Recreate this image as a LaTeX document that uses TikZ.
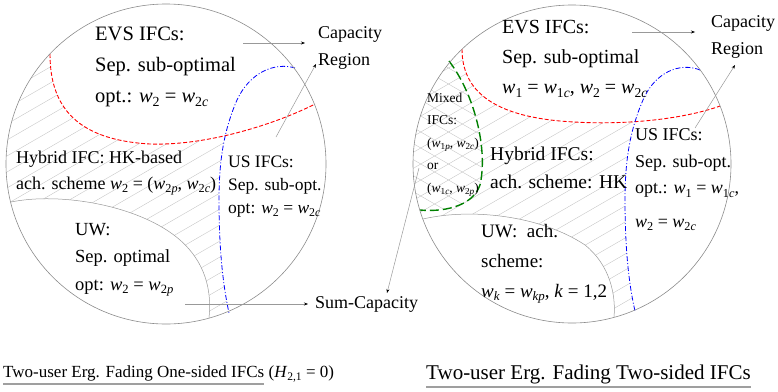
\documentclass[tikz,border=0pt]{standalone}
\usepackage{fontspec}
\setmainfont{Liberation Serif}
\usetikzlibrary{arrows.meta, positioning, calc}
\newcommand{\lowsub}[1]{\raisebox{-0.45ex}{\scalebox{0.68}{#1}}}
\newcommand{\wv}[1]{\textit{w}\lowsub{#1}}
\newcommand{\fsz}[2]{\fontsize{#1}{#2}\selectfont}

\begin{document}
\begin{tikzpicture}[
  x=1pt, y=-1pt,
  >=Stealth,
  txt/.style={anchor=base west, inner sep=0pt, align=left},
  rim/.style={draw=gray!90, line width=0.6pt},
  hatch/.style={draw=gray!45, line width=0.4pt},
  conn/.style={draw=gray!80, line width=0.5pt, -{Stealth[length=4pt,width=3pt,black]}},
  evsline/.style={red, line width=0.9pt, dash pattern=on 4pt off 2pt},
  usline/.style={blue, line width=0.8pt, dash pattern=on 5pt off 2pt on 1pt off 2pt},
  mixline/.style={green!50!black, line width=1.4pt, dash pattern=on 9pt off 4pt},
  uwline/.style={draw=gray!80, line width=0.5pt},
  uline/.style={draw=gray!75, line width=2.2pt},
]
  \useasboundingbox (0,0) rectangle (778,391);

  % --- one-sided IFCs (left) --------------------------------------
  \begin{scope}
    \clip (166,164) circle[radius=160pt];
    \clip (0,54) -- (50,54) .. controls (50,110) and (80,140) .. (150,144)
          .. controls (210,146) and (280,122) .. (315,104) -- (340,104)
          -- (340,340) -- (0,340) -- cycle;
    \clip (0,0) -- (295,0) -- (295,68) .. controls (275,62) and (250,72) .. (237,100)
          .. controls (224,130) and (219,160) .. (219,200)
          .. controls (219,250) and (223,285) .. (229,313) -- (229,340) -- (0,340) -- cycle;
    \foreach \k in {0,...,36}
      \draw[hatch] (0,\k*16) -- ++(30:420pt);
  \end{scope}
  \begin{scope}
    \clip (166,164) circle[radius=160pt];
    \fill[white] (0,202) -- (11,202) .. controls (60,192) and (140,205) .. (180,240)
          .. controls (205,262) and (212,290) .. (209,318) -- (209,340) -- (0,340) -- cycle;
  \end{scope}
  \draw[uwline] (11,202) .. controls (60,192) and (140,205) .. (180,240)
        .. controls (205,262) and (212,290) .. (209,318);
  \draw[evsline] (50,54) .. controls (50,110) and (80,140) .. (150,144)
        .. controls (210,146) and (280,122) .. (315,104);
  \draw[usline] (295,68) .. controls (275,62) and (250,72) .. (237,100)
        .. controls (224,130) and (219,160) .. (219,200)
        .. controls (219,250) and (223,285) .. (229,313);
  \draw[rim] (166,164) circle[radius=160pt];

  \node[txt, font=\fsz{20.5}{31}] (evsL) at (95,102) {EVS IFCs:\\Sep. sub-optimal\\opt.: \wv{2} = \wv{2\textit{c}}};
  \node[txt, font=\fsz{18}{27}] (capL) at (318,65) {Capacity\\Region};
  \node[txt, font=\fsz{18}{26}] (hybL) at (16,189) {Hybrid IFC: HK-based\\ach. scheme \wv{2} = (\wv{2\textit{p}}, \wv{2\textit{c}})};
  \node[txt, font=\fsz{17.5}{23}] (usL) at (228,213) {US IFCs:\\Sep. sub-opt.\\opt: \wv{2} = \wv{2\textit{c}}};
  \node[txt, font=\fsz{18.5}{27.5}] (uwL) at (75,290) {UW:\\Sep. optimal\\opt: \wv{2} = \wv{2\textit{p}}};
  \node[txt, font=\fsz{18}{22}] (sumC) at (315,308) {Sum-Capacity};

  \coordinate (evsArrL) at (243,43);
  \coordinate (capArrL) at (305,43);
  \coordinate (usArrL) at (276,137);
  \coordinate (regArrL) at (316,64);
  \coordinate (uwArrL) at (185,304);
  \coordinate (sumArrL) at (308,304);
  \draw[conn] (evsArrL) -- (capArrL);
  \draw[conn] (usArrL) -- (regArrL);
  \draw[conn] (uwArrL) -- (sumArrL);

  % --- two-sided IFCs (right) -------------------------------------
  \begin{scope}
    \clip (572,164) circle[radius=159pt];
    \clip (400,49) -- (462,49) .. controls (462,92) and (495,115) .. (560,121)
          .. controls (630,127) and (690,117) .. (720,106) -- (740,106)
          -- (740,340) -- (400,340) -- cycle;
    \clip (400,0) -- (700,0) -- (700,70) .. controls (680,62) and (655,72) .. (643,100)
          .. controls (630,130) and (625,160) .. (625,200)
          .. controls (625,250) and (629,285) .. (635,311) -- (635,340) -- (400,340) -- cycle;
    \foreach \k in {0,...,36}
      \draw[hatch] (400,\k*16) -- ++(30:420pt);
    \begin{scope}
      \clip (400,61) -- (449,61) .. controls (475,95) and (488,150) .. (480,185)
            .. controls (472,208) and (440,212) .. (420,210) -- (400,210) -- cycle;
      \foreach \k in {0,...,20}
        \draw[hatch] (400,\k*16-40) -- ++(-30:200pt);
    \end{scope}
  \end{scope}
  \begin{scope}
    \clip (572,164) circle[radius=159pt];
    \fill[white] (400,219) -- (423,219) .. controls (470,208) and (540,215) .. (585,245)
          .. controls (610,265) and (616,295) .. (614,317) -- (614,340) -- (400,340) -- cycle;
  \end{scope}
  \draw[uwline] (423,219) .. controls (470,208) and (540,215) .. (585,245)
        .. controls (610,265) and (616,295) .. (614,317);
  \draw[evsline] (462,49) .. controls (462,92) and (495,115) .. (560,121)
        .. controls (630,127) and (690,117) .. (720,106);
  \draw[mixline] (449,61) .. controls (475,95) and (488,150) .. (480,185)
        .. controls (472,208) and (440,212) .. (420,210);
  \draw[usline] (700,70) .. controls (680,62) and (655,72) .. (643,100)
        .. controls (630,130) and (625,160) .. (625,200)
        .. controls (625,250) and (629,285) .. (635,311);
  \draw[rim] (572,164) circle[radius=159pt];

  \node[txt, font=\fsz{20}{30}] (evsR) at (502,93) {EVS IFCs:\\Sep. sub-optimal\\\wv{1} = \wv{1\textit{c}}, \wv{2} = \wv{2\textit{c}}};
  \node[txt, font=\fsz{18}{27}] (capR) at (711,54) {Capacity\\Region};
  \node[txt, font=\fsz{13.5}{22.5}] (mixR) at (427,192) {Mixed\\IFCs:\\(\wv{1\textit{p}}, \wv{2\textit{c}})\\or\\(\wv{1\textit{c}}, \wv{2\textit{p}})};
  \node[txt, font=\fsz{19.5}{28}] (hybR) at (490,188) {Hybrid IFCs:\\ach. scheme: HK};
  \node[txt, font=\fsz{18}{26.5}] (usR) at (635,227) {US IFCs:\\Sep. sub-opt.\\opt.: \wv{1} = \wv{1\textit{c}},\\[7pt]\wv{2} = \wv{2\textit{c}}};
  \node[txt, font=\fsz{19}{30}] (uwR) at (481,297) {UW:\ \ ach.\\scheme:\\\wv{\textit{k}} = \wv{\textit{kp}}, \textit{k} = 1,2};

  \coordinate (evsArrR) at (632,32);
  \coordinate (capArrR) at (695,32);
  \coordinate (usArrR) at (695,128);
  \coordinate (regArrR) at (735,65);
  \coordinate (mixArr) at (419,168);
  \coordinate (sumArrR) at (387,293);
  \draw[conn] (evsArrR) -- (capArrR);
  \draw[conn] (usArrR) -- (regArrR);
  \draw[conn] (mixArr) -- (sumArrR);

  % --- captions ---------------------------------------------------
  \node[txt, font=\fsz{17}{20}] (capOne) at (3,377) {Two-user Erg. Fading One-sided IFCs};
  \node[txt, font=\fsz{17}{20}] (capOneH) at ([xshift=4pt]capOne.base east) {(\textit{H}\lowsub{2,1} = 0)};
  \node[txt, font=\fsz{21}{24}] (capTwo) at (426,379) {Two-user Erg. Fading Two-sided IFCs};
  \draw[uline] ([yshift=-3pt]capOne.south west) -- ([yshift=-3pt]capOne.south east);
  \draw[uline] ([yshift=-3pt]capTwo.south west) -- ([yshift=-3pt]capTwo.south east);
\end{tikzpicture}
\end{document}
